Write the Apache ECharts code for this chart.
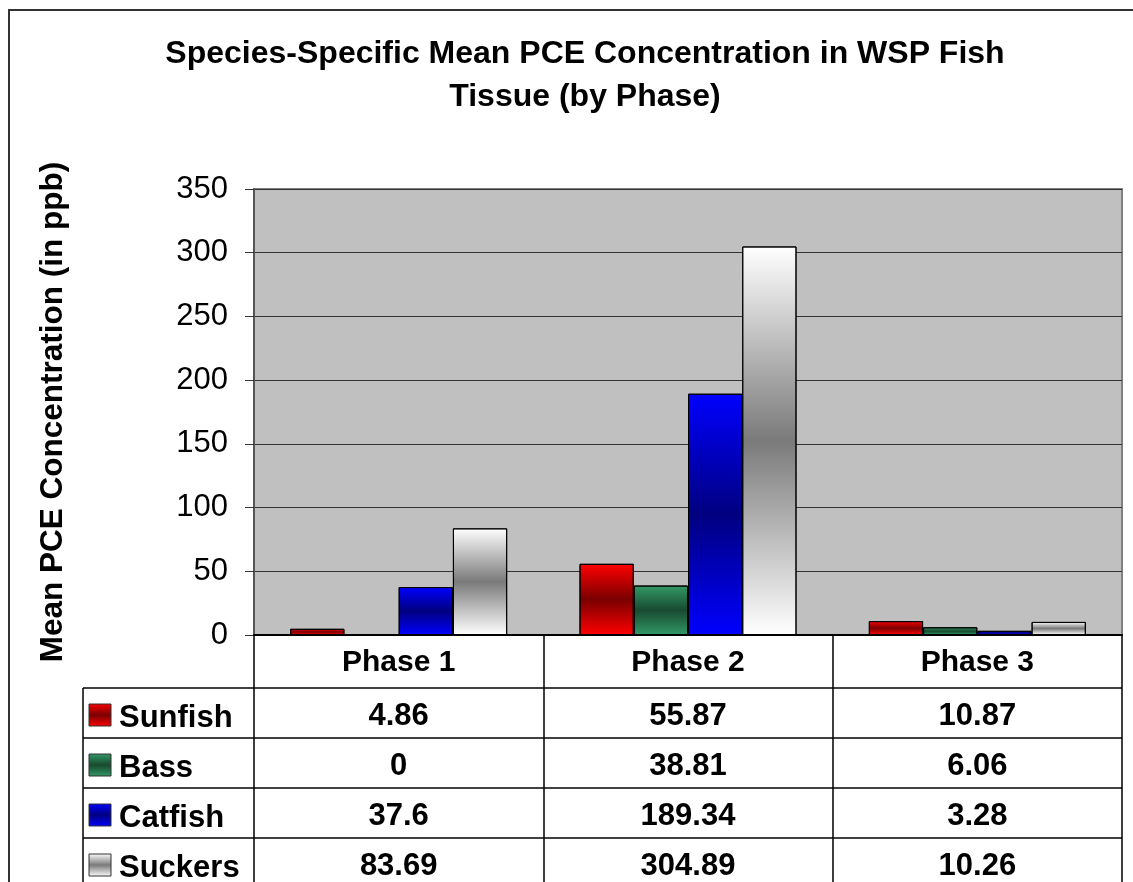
<!DOCTYPE html>
<html>
<head>
<meta charset="utf-8">
<script src="https://cdn.jsdelivr.net/npm/echarts@6/dist/echarts.min.js"></script>
<style>html,body{margin:0;padding:0;background:#fff;}#c{width:1133px;height:882px;}</style>
</head>
<body>
<div id="c"></div>
<script>
// ---- data ----
const titleText = 'Species-Specific Mean PCE Concentration in WSP Fish\nTissue (by Phase)';
const yAxisName = 'Mean PCE Concentration (in ppb)';
const categories = ['Phase 1', 'Phase 2', 'Phase 3'];
const seriesNames = ['Sunfish', 'Bass', 'Catfish', 'Suckers'];
const sunfish = [4.86, 55.87, 10.87];
const bass = [0, 38.81, 6.06];
const catfish = [37.6, 189.34, 3.28];
const suckers = [83.69, 304.89, 10.26];
const yMin = 0, yMax = 350, yInterval = 50;

// ---- styles ----
const FONT = '"Liberation Sans", Arial, sans-serif';
const palette = [
  ['#FF0000', '#7A0000'],
  ['#339966', '#174A30'],
  ['#0000FF', '#000080'],
  ['#FFFFFF', '#7A7A7A']
];
function grad(c) {
  return new echarts.graphic.LinearGradient(0, 0, 0, 1, [
    {offset: 0, color: c[0]}, {offset: 0.5, color: c[1]}, {offset: 1, color: c[0]}
  ]);
}
const seriesData = [sunfish, bass, catfish, suckers];

const W = 1133, H = 882;
const gridLeft = 254, gridRight = 1122, gridTop = 189, gridBottom = 635;
const headerH = 53, rowH = 50, tableLeft = 83;

const chart = echarts.init(document.getElementById('c'), null, {renderer: 'canvas'});

const option = {
  backgroundColor: '#fff',
  animation: false,
  title: {
    text: titleText,
    left: 585,
    textAlign: 'center',
    top: 33,
    padding: 0,
    textStyle: {fontFamily: FONT, fontWeight: 'bold', fontSize: 32, lineHeight: 43, color: '#000'}
  },
  grid: {
    left: gridLeft, right: W - gridRight, top: gridTop, bottom: H - gridBottom,
    show: true, backgroundColor: '#C0C0C0', borderColor: '#808080', borderWidth: 2
  },
  xAxis: {
    type: 'category',
    data: categories,
    axisLine: {show: true, lineStyle: {color: '#000', width: 2}},
    axisTick: {show: true, length: 260, lineStyle: {color: '#000', width: 1.5}},
    axisLabel: {fontFamily: FONT, fontWeight: 'bold', fontSize: 30, color: '#000', margin: 13},
    splitLine: {show: false}
  },
  yAxis: {
    type: 'value',
    min: yMin, max: yMax, interval: yInterval,
    name: yAxisName,
    nameLocation: 'middle',
    nameRotate: 90,
    nameGap: 185,
    nameTextStyle: {fontFamily: FONT, fontWeight: 'bold', fontSize: 31.5, color: '#000'},
    axisLine: {show: true, lineStyle: {color: '#555', width: 2}},
    axisTick: {show: true, length: 9, lineStyle: {color: '#333', width: 1}},
    axisLabel: {fontFamily: FONT, fontSize: 31, color: '#000', margin: 26},
    splitLine: {show: true, lineStyle: {color: '#333', width: 1}}
  },
  series: seriesNames.map((n, i) => ({
    name: n,
    type: 'bar',
    data: seriesData[i],
    barGap: '0%',
    barCategoryGap: '25%',
    itemStyle: {color: grad(palette[i]), borderColor: '#000', borderWidth: 1}
  }))
};
chart.setOption(option);

// ---- data table drawn below the axis ----
const g = [];
// outer frame
g.push({type: 'rect', shape: {x: 9, y: 10, width: 1200, height: 1000}, style: {fill: null, stroke: '#333', lineWidth: 2}, z: 0, silent: true});
const tableTop = gridBottom + headerH;
const tableBottom = H + 10;
// left border of table
g.push({type: 'line', shape: {x1: tableLeft, y1: tableTop, x2: tableLeft, y2: tableBottom}, style: {stroke: '#000', lineWidth: 1.5}, z: 10});
for (let r = 0; r < seriesNames.length; r++) {
  const y0 = tableTop + r * rowH;
  g.push({type: 'line', shape: {x1: tableLeft, y1: y0, x2: gridRight, y2: y0}, style: {stroke: '#000', lineWidth: 1.5}, z: 10});
  const cy = y0 + rowH / 2;
  g.push({type: 'rect', shape: {x: 89, y: cy - 9, width: 22, height: 22},
    style: {fill: grad(palette[r]), stroke: '#333', lineWidth: 1}, z: 10});
  g.push({type: 'text', x: 119, y: cy + 5, style: {text: seriesNames[r], fontFamily: FONT, fontWeight: 'bold', fontSize: 31,
    fill: '#000', textAlign: 'left', align: 'left', textVerticalAlign: 'middle', verticalAlign: 'middle'}, z: 10});
  for (let c = 0; c < categories.length; c++) {
    const px = chart.convertToPixel({xAxisIndex: 0}, categories[c]);
    g.push({type: 'text', x: px, y: cy + 3, style: {text: String(seriesData[r][c]), fontFamily: FONT, fontWeight: 'bold', fontSize: 31,
      fill: '#000', textAlign: 'center', align: 'center', textVerticalAlign: 'middle', verticalAlign: 'middle'}, z: 10});
  }
}
chart.setOption({graphic: g});
</script>
</body>
</html>
